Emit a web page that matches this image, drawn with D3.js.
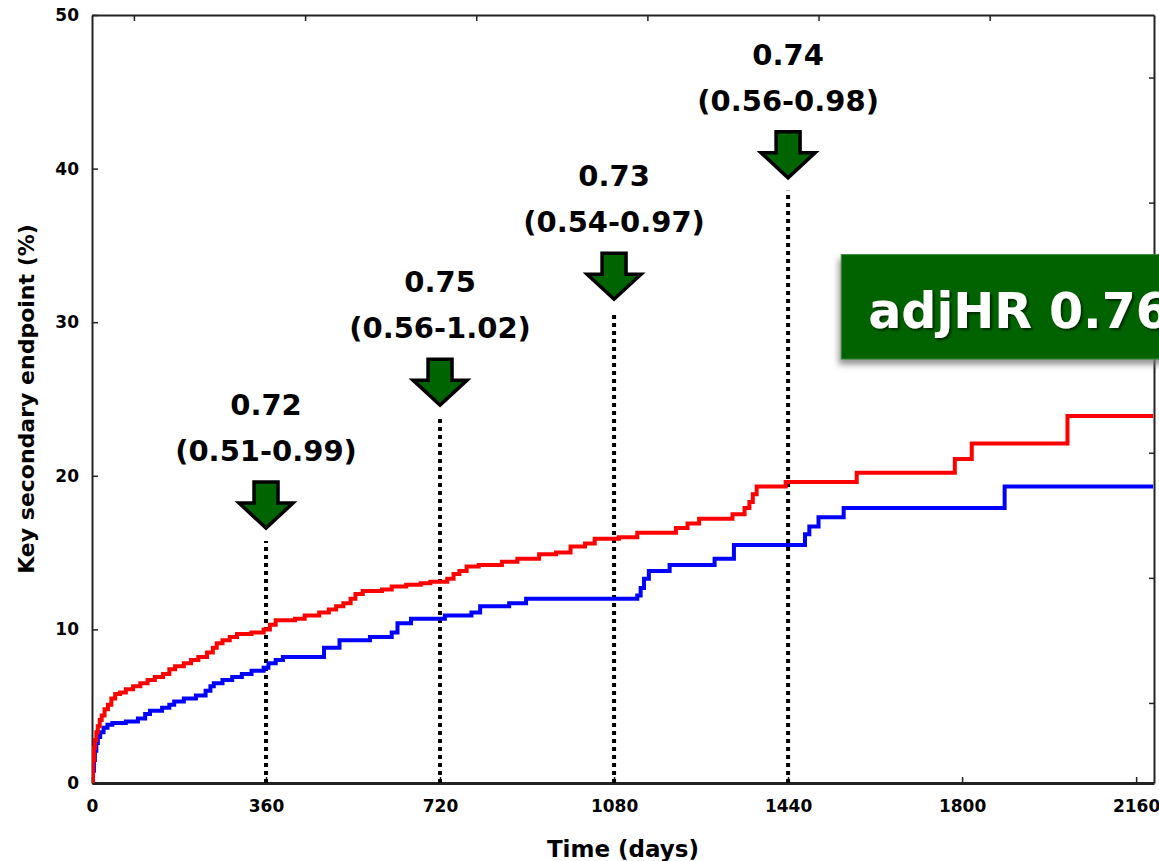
<!DOCTYPE html>
<html>
<head>
<meta charset="utf-8">
<script src="https://cdn.jsdelivr.net/npm/d3@7"></script>
<style>
  html, body { margin: 0; padding: 0; background: #fff; }
  svg { display: block; font-family: "DejaVu Sans", Verdana, sans-serif; }
</style>
</head>
<body>
<div id="chart"></div>
<script>
// ─── DATA ───
const xTicks = [0, 360, 720, 1080, 1440, 1800, 2160];
const yTicks = [0, 10, 20, 30, 40, 50];
const topTicks = [0, 1, 2, 3, 4, 5];      // unlabeled secondary ticks
const rightTicks = [0, 1, 2, 3, 4, 5];

// red arm (upper curve): [day, cumulative %]
const redTimes = [0, 2, 4, 6, 9, 12, 16, 20, 26, 33, 40, 48, 58, 70, 85, 100, 115, 130, 147, 160,
  172, 190, 205, 220, 238, 250, 258, 270, 285, 300, 330, 355, 368, 380, 420, 440, 470, 490, 505,
  520, 535, 545, 560, 600, 620, 650, 680, 700, 735, 748, 760, 775, 800, 848, 880, 925, 960, 990,
  1020, 1040, 1090, 1128, 1208, 1232, 1256, 1325, 1350, 1360, 1367, 1375, 1435, 1582, 1785, 1820,
  2018, 2195];
const redValues = [0, 1.5, 2.3, 2.8, 3.3, 3.7, 4.1, 4.4, 4.8, 5.1, 5.5, 5.8, 5.9, 6.1, 6.3, 6.5, 6.7,
  6.9, 7.1, 7.4, 7.6, 7.8, 8.0, 8.2, 8.5, 8.8, 9.1, 9.3, 9.5, 9.7, 9.8, 10.0, 10.3, 10.6, 10.7, 10.9,
  11.1, 11.3, 11.5, 11.7, 12.0, 12.3, 12.5, 12.6, 12.8, 12.9, 13.0, 13.1, 13.3, 13.6, 13.8, 14.1,
  14.2, 14.4, 14.6, 14.9, 15.0, 15.4, 15.6, 15.9, 16.0, 16.3, 16.6, 16.9, 17.2, 17.5, 17.9, 18.3,
  18.8, 19.3, 19.6, 20.2, 21.1, 22.1, 23.9, 23.9];

// blue arm (lower curve)
const blueTimes = [0, 2, 4, 6, 9, 12, 17, 24, 32, 42, 70, 95, 110, 120, 145, 160, 170, 190, 215, 235,
  245, 252, 270, 290, 310, 330, 355, 365, 380, 395, 480, 512, 575, 620, 632, 660, 730, 785, 803,
  863, 898, 1128, 1135, 1142, 1152, 1195, 1288, 1328, 1475, 1484, 1503, 1555, 1888, 2195];
const blueValues = [0, 0.8, 1.5, 2.1, 2.6, 3.0, 3.3, 3.6, 3.8, 3.9, 4.0, 4.2, 4.5, 4.7, 4.9, 5.1, 5.3,
  5.5, 5.7, 6.0, 6.3, 6.5, 6.7, 6.9, 7.1, 7.3, 7.5, 7.8, 8.0, 8.2, 8.8, 9.3, 9.5, 9.8, 10.4, 10.7,
  10.9, 11.1, 11.5, 11.7, 12.0, 12.2, 12.7, 13.3, 13.8, 14.2, 14.6, 15.5, 16.2, 16.7, 17.3, 17.9,
  19.3, 19.3];

// landmark hazard ratios
const markDays = [360, 720, 1080, 1440];
const markHR = ["0.72", "0.75", "0.73", "0.74"];
const markCI = ["(0.51-0.99)", "(0.56-1.02)", "(0.54-0.97)", "(0.56-0.98)"];
const markLevel = [16.6, 24.6, 31.5, 39.4];   // arrow tip height (%)

const overallLabel = "adjHR 0.76";

// ─── LAYOUT ───
const width = 1159, height = 861;
const margin = { top: 15, right: 5, bottom: 78, left: 92 };
const x0 = margin.left, x1 = width - margin.right;
const y0 = height - margin.bottom, y1 = margin.top;

const svg = d3.select("#chart").append("svg")
  .attr("width", width)
  .attr("height", height);

const defs = svg.append("defs");
defs.append("clipPath").attr("id", "plot-clip")
  .append("rect").attr("x", x0).attr("y", y1).attr("width", x1 - x0).attr("height", y0 - y1);

const boxShadow = defs.append("filter").attr("id", "box-shadow")
  .attr("x", "-10%").attr("y", "-20%").attr("width", "130%").attr("height", "160%");
boxShadow.append("feDropShadow").attr("dx", -2).attr("dy", 5).attr("stdDeviation", 3)
  .attr("flood-color", "#777").attr("flood-opacity", 0.8);

const textShadow = defs.append("filter").attr("id", "text-shadow")
  .attr("x", "-10%").attr("y", "-20%").attr("width", "130%").attr("height", "160%");
textShadow.append("feDropShadow").attr("dx", 2).attr("dy", 2).attr("stdDeviation", 1)
  .attr("flood-color", "#000").attr("flood-opacity", 0.6);

// Scales
const x = d3.scaleLinear().domain([0, 2197]).range([x0, x1]);
const y = d3.scaleLinear().domain([0, 50]).range([y0, y1]);
const xTop = d3.scaleLinear().domain([-0.245, 5.96]).range([x0, x1]);
const yRight = d3.scaleLinear().domain([-0.64, 5.5]).range([y0, y1]);

// Axes (inward ticks)
const styleAxis = g => {
  g.attr("font-family", null).attr("font-size", null);
  g.select(".domain").attr("stroke", "#222").attr("stroke-width", 2);
  g.selectAll(".tick line").attr("stroke", "#222").attr("stroke-width", 1.5);
  g.selectAll(".tick text")
    .style("font-size", "17px")
    .style("font-weight", "bold")
    .attr("fill", "#000");
};

svg.append("g")
  .attr("transform", `translate(0,${y0})`)
  .call(d3.axisBottom(x).tickValues(xTicks).tickFormat(d3.format("d"))
    .tickSize(-6).tickPadding(17).tickSizeOuter(0))
  .call(styleAxis)
  .call(g => g.select(".domain").attr("stroke-width", 3));

svg.append("g")
  .attr("transform", `translate(${x0},0)`)
  .call(d3.axisLeft(y).tickValues(yTicks).tickFormat(d3.format("d"))
    .tickSize(-6).tickPadding(13).tickSizeOuter(0))
  .call(styleAxis);

svg.append("g")
  .attr("transform", `translate(0,${y1})`)
  .call(d3.axisTop(xTop).tickValues(topTicks).tickSize(-6).tickFormat("").tickSizeOuter(0))
  .call(styleAxis);

svg.append("g")
  .attr("transform", `translate(${x1},0)`)
  .call(d3.axisRight(yRight).tickValues(rightTicks).tickSize(-5).tickFormat("").tickSizeOuter(0))
  .call(styleAxis);

// Axis titles
svg.append("text")
  .attr("x", (x0 + x1) / 2)
  .attr("y", 857)
  .attr("text-anchor", "middle")
  .style("font-size", "23px")
  .style("font-weight", "bold")
  .text("Time (days)");

svg.append("text")
  .attr("transform", `translate(34,${(y0 + y1) / 2}) rotate(-90)`)
  .attr("text-anchor", "middle")
  .style("font-size", "22px")
  .style("font-weight", "bold")
  .text("Key secondary endpoint (%)");

// Landmark dotted lines
svg.append("g").selectAll("line")
  .data(markDays)
  .join("line")
  .attr("x1", d => x(d)).attr("x2", d => x(d))
  .attr("y1", y0)
  .attr("y2", (d, i) => y(markLevel[i]) + 13)
  .attr("stroke", "#000")
  .attr("stroke-width", 4)
  .attr("stroke-dasharray", "4,4");

// Step curves
const line = d3.line()
  .x(d => x(d[0]))
  .y(d => y(d[1]))
  .curve(d3.curveStepAfter);

const curves = svg.append("g").attr("clip-path", "url(#plot-clip)");
curves.append("path")
  .datum(blueTimes.map((t, i) => [t, blueValues[i]]))
  .attr("d", line)
  .attr("fill", "none")
  .attr("stroke", "#0000ff")
  .attr("stroke-width", 4);
curves.append("path")
  .datum(redTimes.map((t, i) => [t, redValues[i]]))
  .attr("d", line)
  .attr("fill", "none")
  .attr("stroke", "#ff0000")
  .attr("stroke-width", 4);

// Arrows + labels
const arrowPath = "M-12,-46 L12,-46 L12,-25 L27,-25 L0,0 L-27,-25 L-12,-25 Z";
const marks = svg.append("g").selectAll("g")
  .data(markDays)
  .join("g")
  .attr("transform", (d, i) => `translate(${x(d)},${y(markLevel[i])})`);

marks.append("path")
  .attr("d", arrowPath)
  .attr("fill", "#006400")
  .attr("stroke", "#000")
  .attr("stroke-width", 3.5)
  .attr("stroke-linejoin", "miter");

marks.append("text")
  .attr("y", -67)
  .attr("text-anchor", "middle")
  .style("font-size", "29px")
  .style("font-weight", "bold")
  .text((d, i) => markCI[i]);

marks.append("text")
  .attr("y", -113)
  .attr("text-anchor", "middle")
  .style("font-size", "29px")
  .style("font-weight", "bold")
  .text((d, i) => markHR[i]);

// Overall adjusted HR box
const box = svg.append("g");
box.append("rect")
  .attr("x", x(1550))
  .attr("y", y(34.4))
  .attr("width", 360)
  .attr("height", y(27.6) - y(34.4))
  .attr("fill", "#006400")
  .attr("stroke", "#3a8a3a")
  .attr("stroke-width", 1)
  .attr("filter", "url(#box-shadow)");
box.append("text")
  .attr("x", x(1550) + 27)
  .attr("y", y(27.6) - 31)
  .style("font-size", "49px")
  .style("font-weight", "bold")
  .attr("fill", "#fff")
  .attr("filter", "url(#text-shadow)")
  .text(overallLabel);
</script>
</body>
</html>
